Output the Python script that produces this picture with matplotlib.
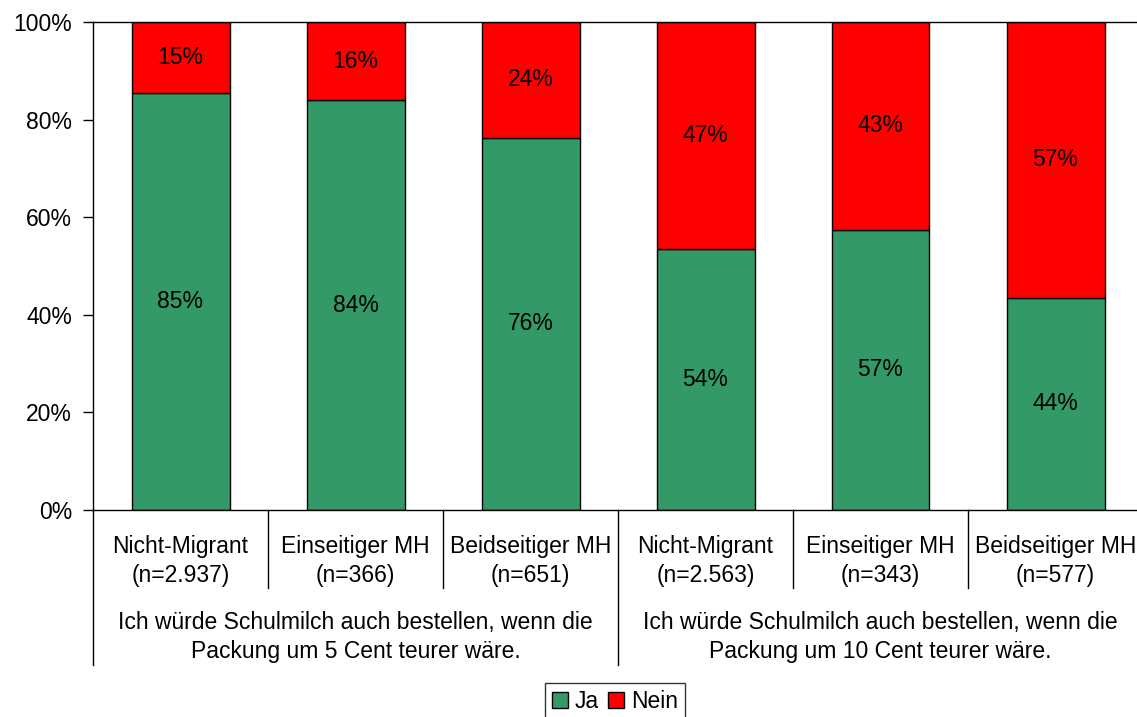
import matplotlib as mpl
mpl.use('Agg')
import matplotlib.pyplot as plt
from matplotlib.patches import Patch

plt.rcParams['font.family'] = ['Liberation Sans', 'DejaVu Sans']

categories = ['Nicht-Migrant\n(n=2.937)', 'Einseitiger MH\n(n=366)', 'Beidseitiger MH\n(n=651)',
              'Nicht-Migrant\n(n=2.563)', 'Einseitiger MH\n(n=343)', 'Beidseitiger MH\n(n=577)']
groups = ['Ich würde Schulmilch auch bestellen, wenn die\nPackung um 5 Cent teurer wäre.',
          'Ich würde Schulmilch auch bestellen, wenn die\nPackung um 10 Cent teurer wäre.']
ja = [85.4, 84.0, 76.3, 53.4, 57.4, 43.5]
nein = [100 - v for v in ja]
ja_labels = ['85%', '84%', '76%', '54%', '57%', '44%']
nein_labels = ['15%', '16%', '24%', '47%', '43%', '57%']

green = '#339966'
red = '#FF0000'
fs = 16.5

fig = plt.figure(figsize=(11.37, 7.17), dpi=100)
W, H = 1137, 717
x0, x1, y0, y1 = 93, 1143, 510, 22
ax = fig.add_axes([x0 / W, (H - y0) / H, (x1 - x0) / W, (y0 - y1) / H])

x = list(range(len(categories)))
ax.bar(x, ja, width=0.56, color=green, edgecolor='black', linewidth=1)
ax.bar(x, nein, width=0.56, bottom=ja, color=red, edgecolor='black', linewidth=1)

for i in x:
    ax.text(i, ja[i] / 2, ja_labels[i], ha='center', va='center', fontsize=fs)
    ax.text(i, ja[i] + nein[i] / 2, nein_labels[i], ha='center', va='center', fontsize=fs)

ax.set_xlim(-0.5, 5.5)
ax.set_ylim(0, 100)
ax.set_yticks([0, 20, 40, 60, 80, 100])
ax.set_yticklabels(['0%', '20%', '40%', '60%', '80%', '100%'], fontsize=fs)
ax.tick_params(axis='y', length=7, width=1, pad=8)
ax.set_xticks([])
ax.spines['right'].set_visible(False)
for s in ['left', 'bottom', 'top']:
    ax.spines[s].set_linewidth(1)

# multi-level category axis
sep_short = -78 / 488
sep_long = -155 / 488
for k, b in enumerate([-0.5, 0.5, 1.5, 2.5, 3.5, 4.5, 5.5]):
    low = sep_long if k in (0, 3, 6) else sep_short
    ax.plot([b, b], [0, low], color='black', linewidth=1,
            transform=ax.get_xaxis_transform(), clip_on=False)

for i, lab in enumerate(categories):
    ax.text(i, -51 / 488, lab, ha='center', va='center', fontsize=fs,
            linespacing=1.32, transform=ax.get_xaxis_transform())
for j, g in enumerate(groups):
    ax.text(1 + 3 * j, -127 / 488, g, ha='center', va='center', fontsize=fs,
            linespacing=1.32, transform=ax.get_xaxis_transform())

handles = [Patch(facecolor=green, edgecolor='black', label='Ja'),
           Patch(facecolor=red, edgecolor='black', label='Nein')]
leg = fig.legend(handles=handles, loc='upper center', bbox_to_anchor=(615 / W, 1 - 683 / H),
                 ncol=2, fontsize=fs, frameon=True, fancybox=False, edgecolor='black',
                 handlelength=0.7, handleheight=0.7, handletextpad=0.3, columnspacing=0.4,
                 borderpad=0.3, borderaxespad=0)
leg.get_frame().set_linewidth(1)

fig.savefig('out.png', dpi=100)
